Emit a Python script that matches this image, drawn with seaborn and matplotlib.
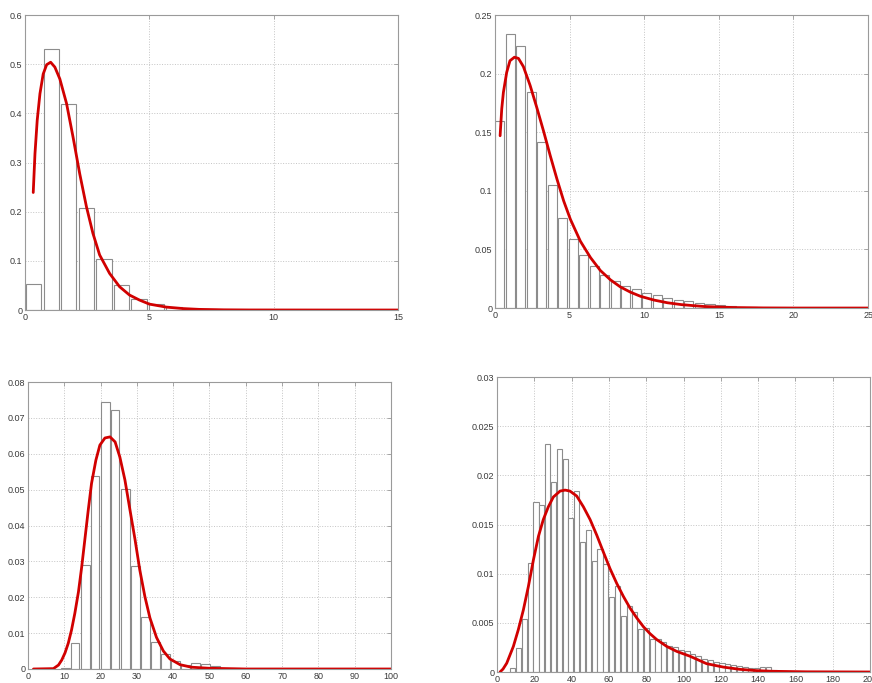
import matplotlib
matplotlib.use("Agg")
import matplotlib.pyplot as plt
import seaborn as sns

# ---- panel 1 (top left) : histogram + fitted density ----
p1_centers = [0.35, 1.06, 1.76, 2.47, 3.17, 3.88, 4.58, 5.29, 5.99, 6.70,
              7.40, 8.11, 8.81, 9.52, 10.22, 10.93, 11.63, 12.34, 13.04, 13.75]
p1_heights = [0.052, 0.531, 0.419, 0.207, 0.104, 0.050, 0.022, 0.0115, 0.006, 0.003,
              0.0015, 0.001, 0.0005, 0.0003, 0.0002, 0.0001, 0.0001, 0.0, 0.0, 0.0001]
p1_curve_x = [0.33, 0.40, 0.49, 0.60, 0.73, 0.87, 1.03, 1.20, 1.40, 1.67, 1.93, 2.20,
              2.47, 2.73, 3.00, 3.40, 3.80, 4.20, 4.60, 5.00, 5.67, 6.33, 7.00, 8.0,
              9.0, 12.0, 15.0]
p1_curve_y = [0.239, 0.318, 0.386, 0.440, 0.480, 0.499, 0.504, 0.494, 0.470, 0.420,
              0.352, 0.277, 0.210, 0.156, 0.112, 0.0745, 0.0475, 0.0305, 0.0203, 0.012,
              0.006, 0.003, 0.0013, 0.0004, 0.0001, 0.0, 0.0]
p1_xticks = [0, 5, 10, 15]
p1_yticks = [0, 0.1, 0.2, 0.3, 0.4, 0.5, 0.6]

# ---- panel 2 (top right) ----
p2_centers = [0.30, 1.01, 1.71, 2.42, 3.12, 3.83, 4.53, 5.24, 5.94, 6.65, 7.35,
              8.06, 8.76, 9.47, 10.17, 10.88, 11.58, 12.29, 12.99, 13.70, 14.40,
              15.11, 15.81, 16.52, 17.22, 17.93, 18.63, 19.34, 20.04, 20.75, 21.45]
p2_heights = [0.160, 0.2337, 0.2234, 0.184, 0.142, 0.105, 0.077, 0.059, 0.045, 0.0357,
              0.0286, 0.0229, 0.019, 0.016, 0.013, 0.011, 0.0086, 0.0071, 0.0057,
              0.0043, 0.0034, 0.0025, 0.0015, 0.001, 0.0006, 0.0004, 0.0002, 0.0001,
              0.0001, 0.0, 0.0001]
p2_curve_x = [0.34, 0.45, 0.56, 0.78, 1.00, 1.30, 1.57, 1.90, 2.35, 2.80, 3.25, 3.70,
              4.15, 4.60, 5.05, 5.72, 6.40, 7.06, 7.74, 8.40, 9.08, 9.75, 10.65, 11.55,
              12.5, 14.0, 16.0, 18.0, 20.0, 25.0]
p2_curve_y = [0.147, 0.170, 0.184, 0.201, 0.211, 0.214, 0.213, 0.206, 0.190, 0.171,
              0.151, 0.130, 0.110, 0.0914, 0.0757, 0.057, 0.043, 0.032, 0.024, 0.018,
              0.0135, 0.010, 0.0068, 0.0045, 0.0029, 0.0013, 0.0004, 0.0001, 0.0, 0.0]
p2_xticks = [0, 5, 10, 15, 20, 25]
p2_yticks = [0, 0.05, 0.1, 0.15, 0.2, 0.25]

# ---- panel 3 (bottom left) ----
p3_centers = [10.3, 13.0, 15.8, 18.5, 21.3, 24.0, 26.8, 29.6, 32.3, 35.1,
              37.8, 40.6, 43.4, 46.1, 48.9, 51.6, 54.4, 57.2, 59.9, 62.7]
p3_heights = [0.0004, 0.0072, 0.029, 0.0538, 0.0745, 0.0723, 0.0501, 0.0287, 0.0146,
              0.0074, 0.0042, 0.0022, 0.0012, 0.0016, 0.0013, 0.0007, 0.0004, 0.0002,
              0.0001, 0.0001]
p3_curve_x = [1.5, 7.0, 8.4, 9.3, 10.2, 11.1, 12.0, 12.9, 13.9, 14.8, 15.7, 16.6, 17.5,
              18.7, 19.8, 21.2, 22.6, 24.0, 25.3, 26.7, 28.1, 29.5, 30.8, 32.2, 33.6,
              35.4, 37.3, 39.1, 41.9, 45.0, 50.0, 60.0, 100.0]
p3_curve_y = [0.0, 0.0001, 0.0011, 0.0025, 0.0045, 0.0072, 0.0109, 0.0155, 0.0215,
              0.0285, 0.0364, 0.0443, 0.0517, 0.0582, 0.0624, 0.0644, 0.0647, 0.0633,
              0.0591, 0.0527, 0.0443, 0.036, 0.0276, 0.0202, 0.0142, 0.0088, 0.005,
              0.0028, 0.0012, 0.0005, 0.0002, 0.0, 0.0]
p3_xticks = [0, 10, 20, 30, 40, 50, 60, 70, 80, 90, 100]
p3_yticks = [0, 0.01, 0.02, 0.03, 0.04, 0.05, 0.06, 0.07, 0.08]

# ---- panel 4 (bottom right) ----
p4_centers = [8.5, 11.6, 14.7, 17.8, 20.9, 24.0, 27.2, 30.3, 33.4, 36.5, 39.6, 42.7,
              45.8, 49.0, 52.1, 55.2, 58.3, 61.4, 64.5, 67.6, 70.8, 73.9, 77.0, 80.1,
              83.2, 86.3, 89.4, 92.6, 95.7, 98.8, 101.9, 105.0, 108.1, 111.2, 114.3,
              117.5, 120.6, 123.7, 126.8, 129.9, 133.0, 136.1, 139.2, 142.4, 145.5,
              148.6, 151.7, 154.8, 157.9, 161.0]
p4_heights = [0.0004, 0.0024, 0.0054, 0.0111, 0.0173, 0.0170, 0.0232, 0.0193, 0.0227,
              0.0217, 0.0157, 0.0184, 0.0132, 0.0144, 0.0113, 0.0125, 0.0110, 0.0076,
              0.0087, 0.0057, 0.0067, 0.0061, 0.0044, 0.0045, 0.0034, 0.0034, 0.0031,
              0.0026, 0.0025, 0.0022, 0.0021, 0.0018, 0.0016, 0.0013, 0.0012, 0.0010,
              0.0009, 0.0008, 0.0007, 0.0006, 0.0005, 0.0004, 0.0004, 0.0005, 0.0005,
              0.0002, 0.0001, 0.0001, 0.0001, 0.0001]
p4_curve_x = [1.6, 3.2, 5.2, 8.75, 11.4, 14.1, 16.8, 19.5, 22.2, 24.8, 27.5, 30.2, 33.8,
              36.5, 39.1, 42.7, 46.3, 49.9, 53.5, 57.0, 60.6, 64.2, 67.7, 71.3, 74.9,
              78.5, 82.0, 85.6, 91.0, 96.3, 103.5, 112.3, 121.3, 130.2, 139.2, 148.1,
              166.0, 200.0]
p4_curve_y = [0.0, 0.0003, 0.0009, 0.0026, 0.0043, 0.0063, 0.0087, 0.0114, 0.0138,
              0.0155, 0.0168, 0.0178, 0.0184, 0.0185, 0.0184, 0.0179, 0.0168, 0.0155,
              0.0139, 0.0122, 0.0105, 0.0090, 0.0077, 0.0065, 0.0055, 0.0046, 0.0039,
              0.0033, 0.0026, 0.0021, 0.0016, 0.00085, 0.0005, 0.00027, 0.00014,
              0.00007, 0.00002, 0.0]
p4_xticks = [0, 20, 40, 60, 80, 100, 120, 140, 160, 180, 200]
p4_yticks = [0, 0.005, 0.01, 0.015, 0.02, 0.025, 0.03]

sns.set_style("white")
plt.rcParams["font.family"] = ["Liberation Sans", "DejaVu Sans"]

BAR_EDGE = "#8c8c8c"
CURVE_RED = "#d10000"
BOX = "#9a9a9a"


def draw_panel(ax, centers, heights, cx, cy, xticks, yticks):
    sns.barplot(x=centers, y=heights, native_scale=True, width=0.88,
                color="white", saturation=1, edgecolor=BAR_EDGE, linewidth=0.8,
                errorbar=None, ax=ax)
    sns.lineplot(x=cx, y=cy, color=CURVE_RED, linewidth=2.0, ax=ax)
    ax.set_xlim(xticks[0], xticks[-1])
    ax.set_ylim(yticks[0], yticks[-1])
    ax.set_xticks(xticks)
    ax.set_xticklabels([f"{v:g}" for v in xticks])
    ax.set_yticks(yticks)
    ax.set_yticklabels([f"{v:g}" for v in yticks])
    ax.grid(True, linestyle=":", color="#c4c4c4", linewidth=0.7)
    ax.set_axisbelow(True)
    ax.tick_params(direction="in", length=3, width=0.6, color=BOX,
                   top=True, right=True, labelsize=6.5, labelcolor="#3a3a3a", pad=2)
    for sp in ax.spines.values():
        sp.set_visible(True)
        sp.set_color(BOX)
        sp.set_linewidth(0.8)
    ax.set_xlabel("")
    ax.set_ylabel("")


fig = plt.figure(figsize=(8.72, 6.83), dpi=100)
ax1 = fig.add_axes([0.0287, 0.5461, 0.4278, 0.4319])
ax2 = fig.add_axes([0.5677, 0.5490, 0.4278, 0.4290])
ax3 = fig.add_axes([0.0321, 0.0205, 0.4163, 0.4202])
ax4 = fig.add_axes([0.5700, 0.0161, 0.4278, 0.4319])

draw_panel(ax1, p1_centers, p1_heights, p1_curve_x, p1_curve_y, p1_xticks, p1_yticks)
draw_panel(ax2, p2_centers, p2_heights, p2_curve_x, p2_curve_y, p2_xticks, p2_yticks)
draw_panel(ax3, p3_centers, p3_heights, p3_curve_x, p3_curve_y, p3_xticks, p3_yticks)
draw_panel(ax4, p4_centers, p4_heights, p4_curve_x, p4_curve_y, p4_xticks, p4_yticks)

fig.savefig("out.png", dpi=100)
